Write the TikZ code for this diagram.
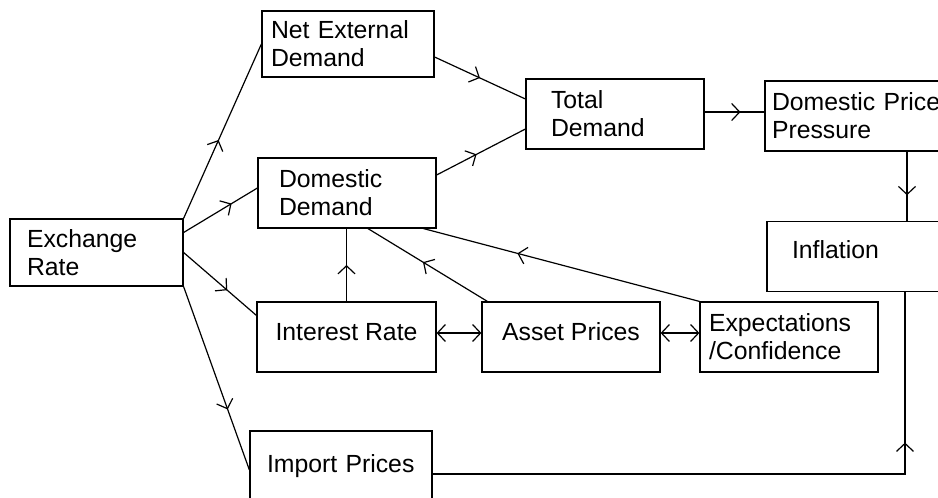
\documentclass[tikz,border=0pt]{standalone}
\usepackage{fontspec}
\setmainfont{Liberation Sans}
\usetikzlibrary{arrows.meta, decorations.markings}

\begin{document}
\begin{tikzpicture}[
    x=0.5pt, y=-0.5pt,
    box/.style={
        rectangle,
        draw,
        line width=0.6pt,
        align=left,
        minimum height=35pt,
        font=\fontsize{12.4}{14}\selectfont
    },
    line/.style={line width=0.6pt},
    midarrow/.style={line, postaction={decorate, decoration={markings,
        mark=at position #1 with {\arrow{Straight Barb[length=4pt, width=8.5pt]}}}}},
    twoway/.style={line, {Straight Barb[length=4pt, width=8.5pt]}-{Straight Barb[length=4pt, width=8.5pt]}}
]
\useasboundingbox (0,0) rectangle (938,498);

\node[box, text width=69.5pt, inner xsep=8.5pt, minimum height=33.5pt] (rate) at (96.5,252.5) {Exchange\\Rate};
\node[box, text width=77pt, inner xsep=4.5pt, minimum height=33pt] (netext) at (348,44) {Net External\\Demand};
\node[box, text width=68pt, inner xsep=10.5pt] (domdem) at (347,193) {Domestic\\Demand};
\node[box, text width=64pt, inner xsep=12.5pt] (total) at (615,114) {Total\\Demand};
\node[box, text width=86pt, inner xsep=3.5pt] (pressure) at (858,116) {Domestic Price\\Pressure};
\node[box, text width=64pt, inner xsep=12.5pt, text depth=6.5pt] (infl) at (856,256.5) {Inflation};
\node[box, align=center, minimum width=89.5pt, text depth=5pt] (interest) at (346.5,337) {Interest Rate};
\node[box, align=center, minimum width=89pt, text depth=5pt] (asset) at (571,337) {Asset Prices};
\node[box, text width=80pt, inner xsep=4.5pt] (expect) at (789,337) {Expectations\\/Confidence};
\node[box, text width=74pt, inner xsep=8.5pt] (import) at (341,466) {Import Prices};

% exchange rate channels
\draw[midarrow=0.45] (rate.north east) -- (netext.west);
\draw[midarrow=0.65] ([yshift=10pt]rate.east) -- ([yshift=2.5pt]domdem.west);
\draw[midarrow=0.6] (rate.east) -- ([yshift=-7pt]interest.north west);
\draw[midarrow=0.67] (rate.south east) -- ([yshift=-2pt]import.west);

% demand side
\draw[midarrow=0.5] ([yshift=-6.5pt]netext.east) -- ([yshift=7.5pt]total.west);
\draw[midarrow=0.45] ([yshift=9pt]domdem.east) -- ([yshift=-7.5pt]total.west);
\draw[midarrow=0.6] ([yshift=1pt]total.east) -- ([yshift=1pt]total.east -| pressure.west);
\draw[midarrow=0.63] ([xshift=24.5pt]pressure.south) -- ([xshift=24.5pt]pressure.south |- infl.north);

% feedback into domestic demand
\draw[midarrow=0.5] (interest.north) -- (interest.north |- domdem.south);
\draw[midarrow=0.54] ([xshift=3pt]asset.north west) -- ([xshift=10.5pt]domdem.south);
\draw[midarrow=0.66] (expect.north west) -- ([xshift=-6.5pt]domdem.south east);
\draw[twoway] ([yshift=2pt]interest.east) -- ([yshift=2pt]asset.west);
\draw[twoway] ([yshift=2pt]asset.east) -- ([yshift=2pt]expect.west);

% import prices
\draw[midarrow=0.77] ([yshift=-4pt]import.east) -| ([xshift=24.5pt]infl.south);

\end{tikzpicture}
\end{document}
